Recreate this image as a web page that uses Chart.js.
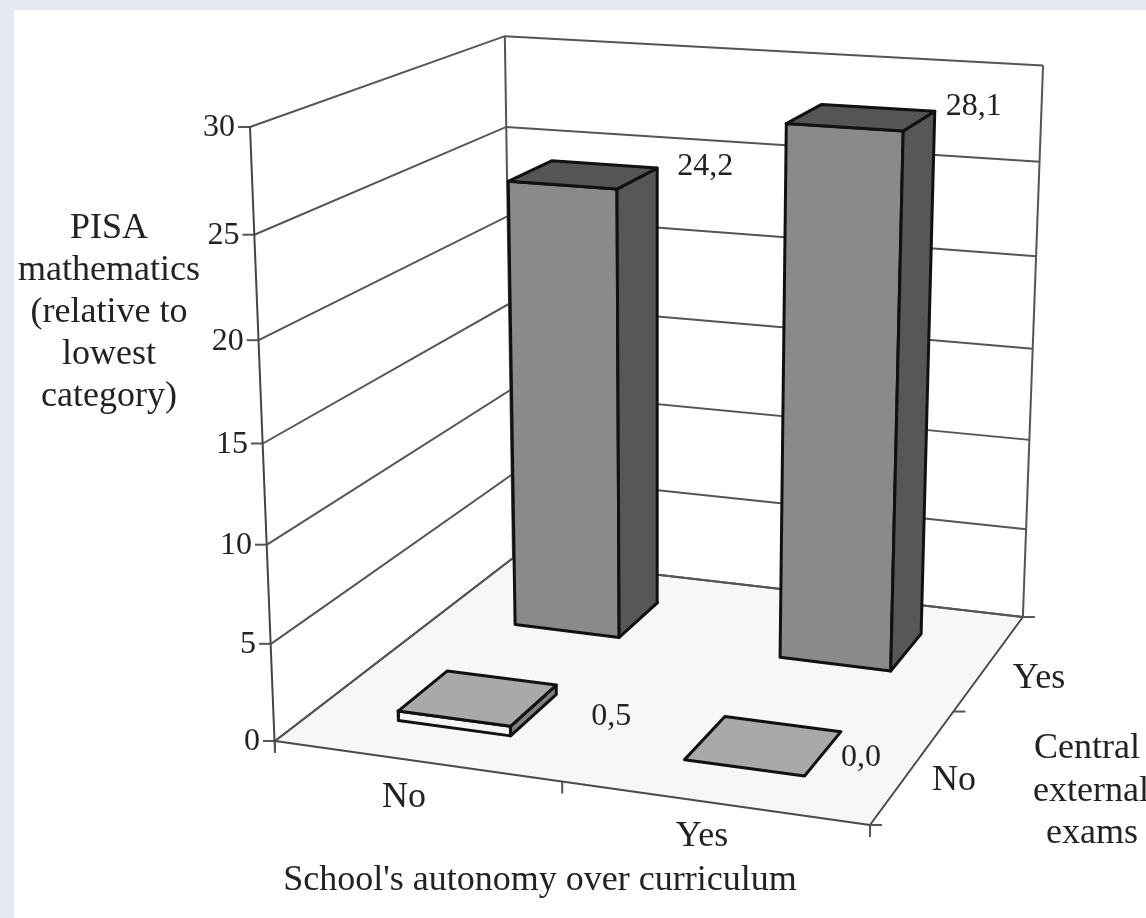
<!DOCTYPE html>
<html>
<head>
<meta charset="utf-8">
<title>PISA mathematics</title>
<script src="https://cdn.jsdelivr.net/npm/chart.js@4"></script>
<style>
  html, body { margin: 0; padding: 0; background: #e4e9f2; }
  #panel { position: absolute; left: 14px; top: 10px; right: 0; bottom: 0; background: #fff; }
  #wrap { position: absolute; left: 0; top: 0; width: 1146px; height: 918px; }
</style>
</head>
<body>
<div id="panel"></div>
<div id="wrap"><canvas id="chart" width="1146" height="918"></canvas></div>
<script>
const autonomyLabels = ['No', 'Yes'];
const examLabels = ['No', 'Yes'];
const withoutExams = [0.5, 0.0];
const withExams = [24.2, 28.1];
const valueTicks = [0, 5, 10, 15, 20, 25, 30];
const maxValue = 30;

// camera: where the box corners land on the page, plus perspective weights
const origin = [275, 741];
const cornerX = [870, 825];
const cornerY = [513, 558];
const cornerZ = [250, 127];
const weightX = 0.933, weightY = 1.187, weightZ = 0.94;
const barHalf = 0.1;

function project(u, v, w) {
    const den = 1 + u * (weightX - 1) + v * (weightY - 1) + w * (weightZ - 1);
    const at = (i) => (origin[i]
        + u * (weightX * cornerX[i] - origin[i])
        + v * (weightY * cornerY[i] - origin[i])
        + w * (weightZ * cornerZ[i] - origin[i])) / den;
    return { x: at(0), y: at(1) };
}

const shapes = [];

function addLine(points, color, width) {
    shapes.push({
        data: points, showLine: true, pointRadius: 0, fill: false,
        borderColor: color, borderWidth: width,
        order: -shapes.length
    });
}

function addPoly(points, color, edge, width) {
    shapes.push({
        data: points.concat([points[0]]), showLine: true, pointRadius: 0, fill: 'shape',
        backgroundColor: color, borderColor: edge, borderWidth: width,
        borderJoinStyle: 'round', borderCapStyle: 'round',
        order: -shapes.length
    });
}

function offset(p, dx, dy) {
    return { x: p.x + dx, y: p.y + dy };
}

const wallColor = '#555555';
const wallWidth = 2;

// floor first, then the two walls on top of its back edges
addPoly([project(0, 0, 0), project(1, 0, 0), project(1, 1, 0), project(0, 1, 0)], '#f7f7f7', '#4a4a4a', 2);

valueTicks.forEach((t) => {
    const w = t / maxValue;
    addLine([project(0, 0, w), project(0, 1, w), project(1, 1, w)], wallColor, wallWidth);
    addLine([offset(project(0, 0, w), -12, 0), project(0, 0, w)], wallColor, wallWidth);
});
addLine([offset(project(0, 0, 0), 0, 12), project(0, 0, 1)], '#444', 2);
addLine([project(0, 1, 0), project(0, 1, 1)], wallColor, wallWidth);
addLine([project(1, 1, 0), project(1, 1, 1)], wallColor, wallWidth);

[0, 0.5, 1].forEach((u) => {
    addLine([project(u, 0, 0), offset(project(u, 0, 0), 0, 12)], wallColor, wallWidth);
});
[0, 0.5, 1].forEach((v) => {
    addLine([project(1, v, 0), offset(project(1, v, 0), 12, 0)], wallColor, wallWidth);
});

function addBar(i, j, value, colors) {
    const u0 = (i + 0.5) / autonomyLabels.length - barHalf;
    const u1 = (i + 0.5) / autonomyLabels.length + barHalf;
    const v0 = (j + 0.5) / examLabels.length - barHalf;
    const v1 = (j + 0.5) / examLabels.length + barHalf;
    const w = value / maxValue;
    if (w > 0) {
        addPoly([project(u0, v0, 0), project(u1, v0, 0), project(u1, v0, w), project(u0, v0, w)], colors.front, '#111', 3);
        addPoly([project(u1, v0, 0), project(u1, v1, 0), project(u1, v1, w), project(u1, v0, w)], colors.side, '#111', 3);
    }
    addPoly([project(u0, v0, w), project(u1, v0, w), project(u1, v1, w), project(u0, v1, w)], colors.top, '#111', 3);
}

const tallColors = { front: '#8a8a8a', side: '#575757', top: '#555555' };
const flatColors = { front: '#f4f4f4', side: '#808080', top: '#a9a9a9' };

withExams.forEach((value, i) => addBar(i, 1, value, tallColors));
withoutExams.forEach((value, i) => addBar(i, 0, value, flatColors));

const axisFont = '36px "Liberation Serif"';
const tickFont = '32px "Liberation Serif"';
const textColor = '#222';

// value labels sit next to the back right corner of each bar's top
const valueLabelShift = [[[55, 32], [20, 26]], [[48, -2], [39, -5]]];

const chartText = {
    id: 'chartText',
    afterDatasetsDraw(chart) {
        const c = chart.ctx;
        const sx = chart.scales.x, sy = chart.scales.y;
        const put = (str, x, y, align, base) => {
            c.textAlign = align || 'center';
            c.textBaseline = base || 'alphabetic';
            c.fillText(str, sx.getPixelForValue(x), sy.getPixelForValue(y));
        };
        c.save();
        c.fillStyle = textColor;

        c.font = tickFont;
        valueTicks.forEach((t) => {
            const p = project(0, 0, t / maxValue);
            put(String(t), p.x - 15, p.y + 1, 'right', 'middle');
        });

        [[withoutExams, 0], [withExams, 1]].forEach(([row, j]) => {
            row.forEach((value, i) => {
                const p = project((i + 0.5) / 2 + barHalf, (j + 0.5) / 2 + barHalf, value / maxValue);
                const shift = valueLabelShift[j][i];
                put(value.toFixed(1).replace('.', ','), p.x + shift[0], p.y + shift[1], 'center', 'middle');
            });
        });

        c.font = axisFont;
        put(autonomyLabels[0], 404, 807);
        put(autonomyLabels[1], 702, 846);
        put(examLabels[0], 954, 790);
        put(examLabels[1], 1039, 688);

        put('School\'s autonomy over curriculum', 540, 890);
        ['PISA', 'mathematics', '(relative to', 'lowest', 'category)'].forEach((s, i) => {
            put(s, 109, 238 + i * 42);
        });
        ['Central', 'external', 'exams'].forEach((s, i) => {
            put(s, [1087, 1091, 1092][i], 758 + i * 42.5);
        });
        c.restore();
    }
};

new Chart(document.getElementById('chart').getContext('2d'), {
    type: 'scatter',
    data: { datasets: shapes },
    options: {
        responsive: false,
        animation: false,
        layout: { padding: 0 },
        plugins: { legend: { display: false }, tooltip: { enabled: false } },
        scales: {
            x: { type: 'linear', display: false, min: 0, max: 1146 },
            y: { type: 'linear', display: false, min: 0, max: 918, reverse: true }
        }
    },
    plugins: [chartText]
});
</script>
</body>
</html>
